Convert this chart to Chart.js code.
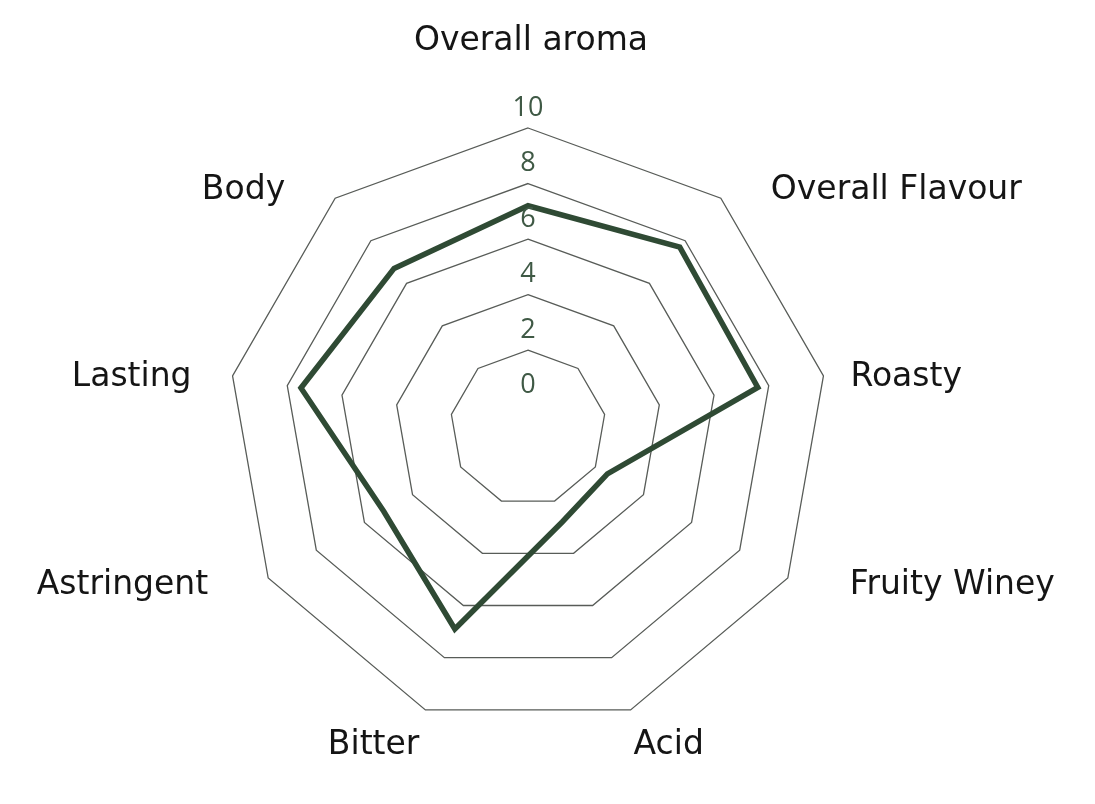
<!DOCTYPE html>
<html>
<head>
<meta charset="utf-8">
<script src="https://cdn.jsdelivr.net/npm/chart.js@4.4.1/dist/chart.umd.min.js"></script>
<style>
  html, body { margin: 0; padding: 0; background: #ffffff; }
  #wrap { position: relative; width: 1095px; height: 804px; }
</style>
</head>
<body>
<div id="wrap"><canvas id="chart"></canvas></div>
<script>
// ---- data ----
const categories = ['Overall aroma', 'Overall Flavour', 'Roasty', 'Fruity Winey', 'Acid', 'Bitter', 'Astringent', 'Lasting', 'Body'];
const scores = [7.2, 7.7, 7.6, 2.5, 2.8, 6.9, 5.2, 7.5, 6.7];
const tickValues = [0, 2, 4, 6, 8, 10];
const scaleMin = -0.8;
const scaleMax = 10;

// ---- styling / label placement (relative to each axis end) ----
const labelPlacement = [
  { align: 'center', dx: 3, dy: -87 },
  { align: 'left', dx: 50, dy: -8 },
  { align: 'left', dx: 27, dy: 2 },
  { align: 'left', dx: 62, dy: 7 },
  { align: 'left', dx: 3, dy: 36 },
  { align: 'right', dx: -6, dy: 36 },
  { align: 'right', dx: -60, dy: 7 },
  { align: 'right', dx: -41, dy: 2 },
  { align: 'right', dx: -50, dy: -8 }
];
const lineColor = '#2f4a34';
const tickColor = '#3f5945';
const gridColor = '#585c58';

const segmentStyle = {
  borderWidth: ctx => ctx.p0DataIndex === 8 ? 2 : (ctx.p0DataIndex === 7 ? 3.5 : 5.5),
  borderColor: ctx => ctx.p0DataIndex === 8 ? '#74887a' : lineColor
};

const labelPlugin = {
  id: 'labelPlugin',
  beforeDatasetsDraw(chart) {
    const line = chart.getDatasetMeta(0).dataset;
    if (line && line.options && line.options.segment !== segmentStyle) {
      line.options.segment = segmentStyle;
      delete line._segments;
      delete line._path;
    }
  },
  afterDatasetsDraw(chart) {
    const s = chart.scales.r;
    const ctx = chart.ctx;
    ctx.save();
    ctx.font = '27px "Open Sans"';
    ctx.fillStyle = tickColor;
    ctx.textAlign = 'center';
    ctx.textBaseline = 'middle';
    tickValues.forEach(v => {
      const r = s.getDistanceFromCenterForValue(v);
      ctx.fillText(String(v), s.xCenter, s.yCenter - r - 20);
    });
    ctx.restore();
  },
  afterDraw(chart) {
    const s = chart.scales.r;
    const ctx = chart.ctx;
    ctx.save();
    ctx.font = '33px "DejaVu Sans"';
    ctx.fillStyle = '#151515';
    ctx.textBaseline = 'middle';
    categories.forEach((c, i) => {
      const p = s.getPointPosition(i, s.drawingArea);
      const pl = labelPlacement[i];
      ctx.textAlign = pl.align;
      ctx.fillText(c, p.x + pl.dx, p.y + pl.dy);
    });
    ctx.restore();
  }
};

new Chart(document.getElementById('chart'), {
  type: 'radar',
  data: {
    labels: categories,
    datasets: [{
      data: scores,
      borderColor: lineColor,
      borderWidth: 5.5,
      backgroundColor: 'rgba(0,0,0,0)',
      fill: false,
      pointRadius: 0,
      pointHoverRadius: 0,
      tension: 0,
      borderJoinStyle: 'miter'
    }]
  },
  options: {
    responsive: true,
    maintainAspectRatio: false,
    animation: false,
    layout: { padding: { left: 228, right: 267, top: 128, bottom: 76 } },
    plugins: { legend: { display: false }, tooltip: { enabled: false } },
    scales: {
      r: {
        min: scaleMin,
        max: scaleMax,
        ticks: { display: false, stepSize: 2 },
        afterBuildTicks: scale => { scale.ticks = tickValues.map(v => ({ value: v })); },
        grid: {
          color: ctx => (ctx.tick && ctx.tick.value <= 0) ? 'rgba(0,0,0,0)' : gridColor,
          lineWidth: 1.3
        },
        angleLines: { display: false },
        pointLabels: { display: false }
      }
    }
  },
  plugins: [labelPlugin]
});
</script>
</body>
</html>
